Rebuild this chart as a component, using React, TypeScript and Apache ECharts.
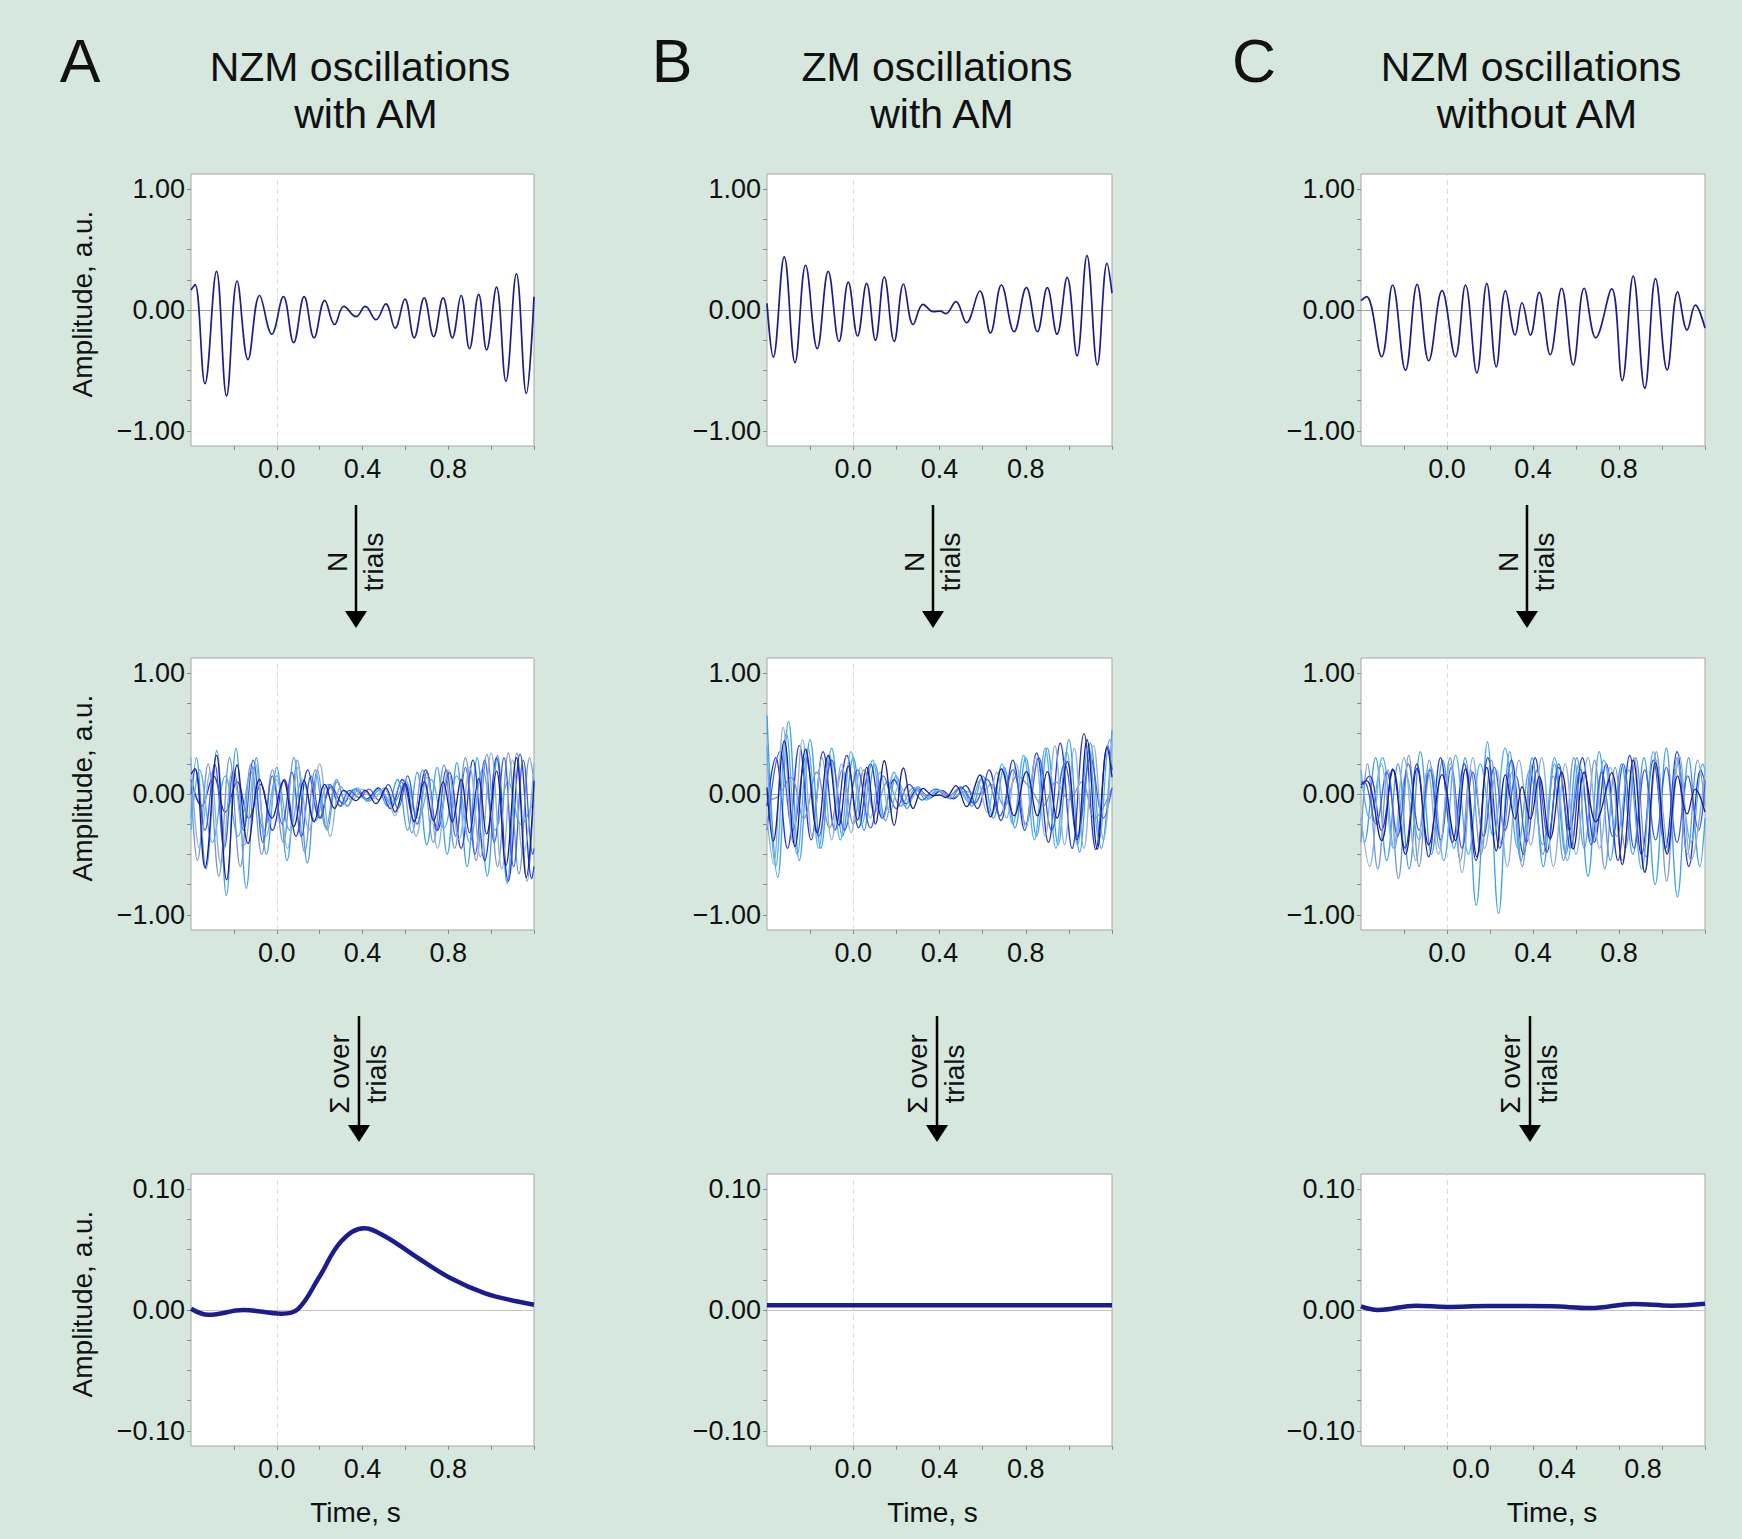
import React, { useEffect, useRef } from "react";
import * as echarts from "echarts";

// ---------- DATA (time in s, amplitude in a.u.) ----------
// single trials (top row) – extrema
const trialA: number[][] = [[-0.4,0.165],[-0.381,0.21],[-0.335,-0.61],[-0.281,0.32],[-0.234,-0.71],[-0.185,0.24],[-0.134,-0.41],[-0.08,0.12],[-0.023,-0.2],[0.031,0.11],[0.079,-0.27],[0.128,0.11],[0.174,-0.23],[0.224,0.08],[0.27,-0.12],[0.313,0.03],[0.37,-0.055],[0.413,0.03],[0.463,-0.08],[0.509,0.05],[0.552,-0.15],[0.598,0.09],[0.641,-0.23],[0.688,0.1],[0.732,-0.22],[0.776,0.1],[0.819,-0.23],[0.86,0.12],[0.899,-0.32],[0.942,0.13],[0.979,-0.33],[1.025,0.19],[1.069,-0.59],[1.118,0.3],[1.164,-0.69],[1.2,0.11]];
const trialB: number[][] = [[-0.4,0.055],[-0.371,-0.39],[-0.32,0.44],[-0.27,-0.435],[-0.221,0.37],[-0.167,-0.32],[-0.116,0.32],[-0.066,-0.26],[-0.023,0.23],[0.02,-0.215],[0.062,0.22],[0.103,-0.25],[0.144,0.275],[0.19,-0.26],[0.233,0.215],[0.278,-0.12],[0.324,0.047],[0.371,-0.014],[0.402,-0.01],[0.429,-0.03],[0.476,0.07],[0.525,-0.105],[0.587,0.157],[0.636,-0.19],[0.687,0.207],[0.746,-0.18],[0.803,0.185],[0.854,-0.18],[0.9,0.185],[0.945,-0.2],[0.992,0.27],[1.038,-0.38],[1.084,0.45],[1.132,-0.455],[1.177,0.385],[1.2,0.14]];
const trialC: number[][] = [[-0.4,0.077],[-0.374,0.11],[-0.304,-0.386],[-0.253,0.207],[-0.193,-0.5],[-0.139,0.212],[-0.085,-0.42],[-0.023,0.16],[0.039,-0.386],[0.086,0.207],[0.139,-0.52],[0.185,0.22],[0.229,-0.47],[0.272,0.16],[0.317,-0.207],[0.349,0.06],[0.388,-0.207],[0.429,0.146],[0.48,-0.37],[0.533,0.18],[0.587,-0.455],[0.638,0.18],[0.692,-0.23],[0.766,0.174],[0.815,-0.584],[0.866,0.28],[0.92,-0.647],[0.97,0.26],[1.024,-0.496],[1.073,0.15],[1.117,-0.165],[1.155,0.04],[1.2,-0.15]];

// further trials (middle row)
const trialsA2: number[][] = [[-0.4,-0.2],[-0.375,0.3],[-0.33,-0.62],[-0.28,0.36],[-0.235,-0.84],[-0.19,0.38],[-0.142,-0.78],[-0.095,0.3],[-0.048,-0.5],[0.0,0.22],[0.048,-0.55],[0.096,0.28],[0.143,-0.57],[0.19,0.2],[0.236,-0.3],[0.282,0.1],[0.33,-0.1],[0.376,0.05],[0.422,-0.06],[0.47,0.05],[0.515,-0.1],[0.562,0.12],[0.61,-0.3],[0.655,0.18],[0.7,-0.42],[0.748,0.22],[0.795,-0.5],[0.84,0.26],[0.888,-0.6],[0.935,0.3],[0.982,-0.68],[1.03,0.32],[1.075,-0.74],[1.12,0.34],[1.168,-0.72],[1.2,0.1]];
const trialsA3: number[][] = [[-0.4,0.12],[-0.35,-0.1],[-0.295,0.15],[-0.24,-0.15],[-0.185,0.1],[-0.13,-0.2],[-0.075,0.08],[-0.02,-0.3],[0.035,0.12],[0.09,-0.35],[0.145,0.2],[0.2,-0.2],[0.255,0.06],[0.31,-0.08],[0.365,0.04],[0.42,-0.04],[0.475,0.05],[0.53,-0.12],[0.585,0.12],[0.64,-0.22],[0.695,0.2],[0.75,-0.3],[0.805,0.18],[0.86,-0.45],[0.915,0.28],[0.97,-0.55],[1.025,0.3],[1.08,-0.72],[1.135,0.33],[1.19,-0.7],[1.2,-0.6]];
const trialsA4: number[][] = [[-0.4,0.1],[-0.37,-0.55],[-0.32,0.25],[-0.27,-0.68],[-0.22,0.3],[-0.17,-0.6],[-0.12,0.25],[-0.07,-0.5],[-0.02,0.2],[0.03,-0.4],[0.08,0.3],[0.13,-0.48],[0.18,0.2],[0.23,-0.28],[0.28,0.12],[0.33,-0.1],[0.38,0.03],[0.43,-0.06],[0.48,0.04],[0.53,-0.08],[0.58,0.1],[0.63,-0.32],[0.68,0.2],[0.73,-0.4],[0.78,0.24],[0.83,-0.45],[0.88,0.3],[0.93,-0.55],[0.98,0.33],[1.03,-0.6],[1.08,0.34],[1.13,-0.66],[1.18,0.3],[1.2,0.1]];
const trialsA5: number[][] = [[-0.4,-0.3],[-0.36,0.2],[-0.3,-0.4],[-0.24,0.15],[-0.18,-0.35],[-0.12,0.18],[-0.06,-0.3],[0.0,0.15],[0.06,-0.3],[0.12,0.12],[0.18,-0.22],[0.24,0.08],[0.3,-0.1],[0.36,0.04],[0.42,-0.05],[0.48,0.03],[0.54,-0.08],[0.6,0.1],[0.66,-0.2],[0.72,0.12],[0.78,-0.28],[0.84,0.15],[0.9,-0.4],[0.96,0.2],[1.02,-0.3],[1.08,0.1],[1.14,-0.25],[1.2,-0.05]];
const trialsA6: number[][] = [[-0.4,0.0],[-0.38,0.2],[-0.335,-0.3],[-0.29,0.25],[-0.245,-0.45],[-0.2,0.2],[-0.155,-0.3],[-0.11,0.28],[-0.065,-0.4],[-0.02,0.15],[0.025,-0.25],[0.07,0.18],[0.115,-0.35],[0.16,0.15],[0.205,-0.2],[0.25,0.08],[0.295,-0.1],[0.34,0.03],[0.385,-0.03],[0.43,0.04],[0.475,-0.05],[0.52,0.08],[0.565,-0.12],[0.61,0.15],[0.655,-0.25],[0.7,0.18],[0.745,-0.3],[0.79,0.2],[0.835,-0.35],[0.88,0.22],[0.925,-0.5],[0.97,0.28],[1.015,-0.4],[1.06,0.3],[1.105,-0.6],[1.15,0.28],[1.195,-0.5],[1.2,-0.45]];
const trialsA7: number[][] = [[-0.4,0.3],[-0.36,-0.45],[-0.31,0.18],[-0.26,-0.58],[-0.205,0.2],[-0.15,-0.42],[-0.1,0.25],[-0.05,-0.35],[0.0,0.12],[0.05,-0.45],[0.1,0.22],[0.15,-0.3],[0.2,0.25],[0.25,-0.35],[0.3,0.06],[0.35,-0.05],[0.4,0.04],[0.45,-0.04],[0.5,0.05],[0.55,-0.18],[0.6,0.12],[0.65,-0.35],[0.7,0.14],[0.75,-0.45],[0.8,0.2],[0.85,-0.38],[0.9,0.22],[0.95,-0.52],[1.0,0.34],[1.05,-0.62],[1.1,0.28],[1.15,-0.5],[1.2,0.25]];

const trialsB2: number[][] = [[-0.4,0.65],[-0.35,-0.69],[-0.3,0.6],[-0.25,-0.55],[-0.2,0.45],[-0.15,-0.45],[-0.1,0.38],[-0.05,-0.35],[0.0,0.3],[0.05,-0.3],[0.1,0.25],[0.15,-0.22],[0.2,0.15],[0.25,-0.12],[0.3,0.06],[0.35,-0.04],[0.4,0.03],[0.45,-0.04],[0.5,0.06],[0.55,-0.1],[0.6,0.15],[0.65,-0.2],[0.7,0.22],[0.75,-0.28],[0.8,0.3],[0.85,-0.35],[0.9,0.38],[0.95,-0.42],[1.0,0.45],[1.05,-0.48],[1.1,0.42],[1.15,-0.45],[1.2,0.53]];
const trialsB3: number[][] = [[-0.4,-0.1],[-0.36,0.3],[-0.305,-0.45],[-0.25,0.4],[-0.195,-0.38],[-0.14,0.35],[-0.085,-0.3],[-0.03,0.32],[0.025,-0.28],[0.08,0.25],[0.135,-0.2],[0.19,0.12],[0.245,-0.08],[0.3,0.04],[0.355,-0.03],[0.41,0.03],[0.465,-0.04],[0.52,0.07],[0.575,-0.12],[0.63,0.2],[0.685,-0.22],[0.74,0.28],[0.795,-0.3],[0.85,0.34],[0.905,-0.4],[0.96,0.42],[1.015,-0.45],[1.07,0.5],[1.125,-0.46],[1.18,0.4],[1.2,0.2]];
const trialsB4: number[][] = [[-0.4,-0.05],[-0.35,-0.02],[-0.29,0.14],[-0.23,-0.2],[-0.17,0.18],[-0.11,-0.28],[-0.05,0.2],[0.0,-0.25],[0.05,0.2],[0.1,-0.15],[0.16,0.1],[0.22,-0.1],[0.28,0.05],[0.34,-0.02],[0.4,0.03],[0.46,-0.03],[0.52,0.02],[0.58,0.0],[0.64,0.08],[0.7,-0.1],[0.76,0.15],[0.82,0.05],[0.88,-0.1],[0.94,0.1],[1.0,-0.05],[1.06,0.1],[1.12,-0.2],[1.2,0.05]];
const trialsB5: number[][] = [[-0.4,0.4],[-0.36,-0.6],[-0.31,0.5],[-0.26,-0.5],[-0.21,0.38],[-0.16,-0.45],[-0.11,0.32],[-0.06,-0.38],[-0.01,0.35],[0.04,-0.25],[0.09,0.28],[0.14,-0.2],[0.19,0.18],[0.24,-0.1],[0.29,0.05],[0.34,-0.05],[0.39,0.04],[0.44,-0.03],[0.49,0.05],[0.54,-0.08],[0.59,0.12],[0.64,-0.18],[0.69,0.25],[0.74,-0.25],[0.79,0.32],[0.84,-0.38],[0.89,0.38],[0.94,-0.45],[0.99,0.35],[1.04,-0.42],[1.09,0.4],[1.14,-0.38],[1.19,0.45],[1.2,0.4]];
const trialsB6: number[][] = [[-0.4,-0.3],[-0.34,0.35],[-0.28,-0.3],[-0.22,0.3],[-0.16,-0.35],[-0.1,0.28],[-0.04,-0.3],[0.02,0.2],[0.08,-0.28],[0.14,0.15],[0.2,-0.12],[0.26,0.08],[0.32,-0.05],[0.38,0.04],[0.44,-0.02],[0.5,0.05],[0.56,-0.08],[0.62,0.12],[0.68,-0.18],[0.74,0.2],[0.8,-0.25],[0.86,0.3],[0.92,-0.3],[0.98,0.25],[1.04,-0.35],[1.1,0.3],[1.16,-0.2],[1.2,0.05]];
const trialsB7: number[][] = [[-0.4,-0.2],[-0.37,-0.58],[-0.325,0.55],[-0.28,-0.4],[-0.235,0.45],[-0.19,-0.35],[-0.145,0.3],[-0.1,-0.38],[-0.055,0.25],[-0.01,-0.32],[0.035,0.22],[0.08,-0.2],[0.125,0.18],[0.17,-0.15],[0.215,0.08],[0.26,-0.06],[0.305,0.03],[0.35,-0.03],[0.395,0.03],[0.44,-0.03],[0.485,0.04],[0.53,-0.06],[0.575,0.1],[0.62,-0.15],[0.665,0.18],[0.71,-0.2],[0.755,0.25],[0.8,-0.28],[0.845,0.3],[0.89,-0.35],[0.935,0.4],[0.98,-0.42],[1.025,0.38],[1.07,-0.45],[1.115,0.4],[1.16,-0.38],[1.2,0.45]];

const trialsC2: number[][] = [[-0.4,-0.2],[-0.384,-0.4],[-0.332,0.3],[-0.28,-0.55],[-0.228,0.25],[-0.176,-0.62],[-0.124,0.35],[-0.072,-0.5],[-0.02,0.28],[0.032,-0.45],[0.084,0.3],[0.136,-0.92],[0.188,0.43],[0.24,-0.99],[0.292,0.35],[0.344,-0.55],[0.396,0.3],[0.448,-0.6],[0.5,0.25],[0.552,-0.5],[0.604,0.3],[0.656,-0.68],[0.708,0.35],[0.76,-0.55],[0.812,0.25],[0.864,-0.5],[0.916,0.3],[0.968,-0.75],[1.02,0.38],[1.072,-0.85],[1.124,0.3],[1.176,-0.6],[1.2,-0.2]];
const trialsC3: number[][] = [[-0.4,0.05],[-0.36,0.15],[-0.305,-0.3],[-0.25,0.2],[-0.195,-0.45],[-0.14,0.25],[-0.085,-0.52],[-0.03,0.3],[0.025,-0.4],[0.08,0.25],[0.135,-0.55],[0.19,0.3],[0.245,-0.45],[0.3,0.28],[0.355,-0.5],[0.41,0.3],[0.465,-0.48],[0.52,0.22],[0.575,-0.45],[0.63,0.3],[0.685,-0.4],[0.74,0.25],[0.795,-0.55],[0.85,0.32],[0.905,-0.5],[0.96,0.28],[1.015,-0.45],[1.07,0.35],[1.125,-0.6],[1.18,0.2],[1.2,0.1]];
const trialsC4: number[][] = [[-0.4,-0.4],[-0.37,0.25],[-0.322,-0.62],[-0.274,0.2],[-0.226,-0.7],[-0.178,0.32],[-0.13,-0.6],[-0.082,0.28],[-0.034,-0.45],[0.014,0.3],[0.062,-0.55],[0.11,0.2],[0.158,-0.5],[0.206,0.28],[0.254,-0.42],[0.302,0.18],[0.35,-0.6],[0.398,0.25],[0.446,-0.5],[0.494,0.15],[0.542,-0.55],[0.59,0.3],[0.638,-0.45],[0.686,0.28],[0.734,-0.62],[0.782,0.22],[0.83,-0.45],[0.878,0.3],[0.926,-0.52],[0.974,0.35],[1.022,-0.72],[1.07,0.3],[1.118,-0.5],[1.166,0.28],[1.2,-0.1]];
const trialsC5: number[][] = [[-0.4,0.2],[-0.36,-0.2],[-0.3,0.3],[-0.245,-0.45],[-0.19,0.15],[-0.13,-0.38],[-0.075,0.22],[-0.015,-0.55],[0.04,0.32],[0.1,-0.5],[0.155,0.25],[0.215,-0.35],[0.27,0.38],[0.33,-0.45],[0.385,0.2],[0.445,-0.42],[0.5,0.3],[0.56,-0.55],[0.615,0.25],[0.675,-0.4],[0.73,0.28],[0.79,-0.35],[0.845,0.2],[0.905,-0.62],[0.96,0.35],[1.02,-0.48],[1.075,0.25],[1.135,-0.4],[1.19,0.25],[1.2,0.2]];
const trialsC6: number[][] = [[-0.4,0.1],[-0.375,0.08],[-0.33,-0.25],[-0.28,0.18],[-0.23,-0.35],[-0.18,0.25],[-0.13,-0.3],[-0.08,0.2],[-0.03,-0.38],[0.02,0.22],[0.07,-0.45],[0.12,0.18],[0.17,-0.35],[0.22,0.22],[0.27,-0.3],[0.32,0.15],[0.37,-0.4],[0.42,0.2],[0.47,-0.35],[0.52,0.25],[0.57,-0.3],[0.62,0.2],[0.67,-0.42],[0.72,0.18],[0.77,-0.35],[0.82,0.25],[0.87,-0.45],[0.92,0.2],[0.97,-0.38],[1.02,0.22],[1.07,-0.4],[1.12,0.15],[1.17,-0.3],[1.2,0.1]];
const trialsC7: number[][] = [[-0.4,-0.2],[-0.36,-0.6],[-0.305,0.25],[-0.25,-0.45],[-0.2,0.3],[-0.145,-0.55],[-0.09,0.2],[-0.04,-0.5],[0.015,0.25],[0.07,-0.65],[0.12,0.3],[0.175,-0.45],[0.23,0.2],[0.28,-0.6],[0.335,0.28],[0.39,-0.42],[0.44,0.3],[0.495,-0.6],[0.55,0.25],[0.6,-0.5],[0.655,0.3],[0.71,-0.45],[0.76,0.22],[0.815,-0.55],[0.87,0.3],[0.92,-0.65],[0.975,0.28],[1.03,-0.45],[1.08,0.32],[1.135,-0.55],[1.2,0.2]];

// sums over trials (bottom row)
const sumA: number[][] = [[-0.4,0.001],[-0.318,-0.004],[-0.155,0.0],[0.023,-0.003],[0.1,0.001],[0.194,0.026],[0.302,0.057],[0.408,0.0676],[0.504,0.061],[0.659,0.043],[0.814,0.026],[0.969,0.014],[1.124,0.007],[1.2,0.0044]];
const sumB: number[][] = [[-0.4,0.004],[0.0,0.004],[0.4,0.004],[0.8,0.004],[1.2,0.004]];
const sumC: number[][] = [[-0.4,0.003],[-0.321,0.0],[-0.143,0.0036],[0.0,0.0025],[0.19,0.0033],[0.485,0.003],[0.667,0.0016],[0.868,0.005],[1.046,0.0036],[1.2,0.0052]];

const xTicks = [-0.2, 0, 0.2, 0.4, 0.6, 0.8, 1.0, 1.2];
const xLabels = [0, 0.4, 0.8];
const yTicksTrial = [-1, -0.75, -0.5, -0.25, 0, 0.25, 0.5, 0.75, 1];
const yLabelsTrial = [-1, 0, 1];
const yTicksSum = [-0.1, -0.075, -0.05, -0.025, 0, 0.025, 0.05, 0.075, 0.1];
const yLabelsSum = [-0.1, 0, 0.1];
const titles = [["NZM oscillations", "with AM"], ["ZM oscillations", "with AM"], ["NZM oscillations", "without AM"]];
const letters = ["A", "B", "C"];

// ---------- STYLE / LAYOUT ----------
const FONT = "'Liberation Sans', Arial, sans-serif";
const BG = "#d6e7de";
const NAVY = "#1c1c8e";
const TRIAL_COLORS = ["#3f9fec", "#2636d8", "#7896cc", "#55aef5", "#3c5ee0", "#8cb0dc"];
const colLeft = [191, 767, 1361];
const colWidth = [343, 345, 344];
const rowTop = [174, 658, 1174];
const rowH = 272;
const titleX = [[360, 366], [937, 942], [1531, 1537]];
const letterX = [80, 672, 1254];
const arrow1X = [356, 933, 1527];
const arrow2X = [359, 937, 1530];

const fmt = (v: number) => {
  const s = Math.abs(v).toFixed(2);
  return v < -1e-9 ? "\u2212" + s : s;
};

export default function App() {
  const ref = useRef<HTMLDivElement>(null);
  useEffect(() => {
    if (!ref.current) return;
    const chart = echarts.init(ref.current, null, { renderer: "svg" });
    const grids: any[] = [];
    const xAxes: any[] = [];
    const yAxes: any[] = [];
    const series: any[] = [];
    const panelsData = [
      [[trialA], [trialB], [trialC]],
      [
        [trialsA2, trialsA3, trialsA4, trialsA5, trialsA6, trialsA7, trialA],
        [trialsB2, trialsB3, trialsB4, trialsB5, trialsB6, trialsB7, trialB],
        [trialsC2, trialsC3, trialsC4, trialsC5, trialsC6, trialsC7, trialC],
      ],
      [[sumA], [sumB], [sumC]],
    ];
    for (let r = 0; r < 3; r++) {
      for (let c = 0; c < 3; c++) {
        const i = r * 3 + c;
        const isSum = r === 2;
        grids.push({
          left: colLeft[c], top: rowTop[r], width: colWidth[c], height: rowH,
          show: true, backgroundColor: "#ffffff", borderColor: "#a6a6a6", borderWidth: 1,
        });
        xAxes.push({
          gridIndex: i, type: "value", min: -0.4, max: 1.2, position: "bottom",
          axisLine: { show: false, onZero: false },
          splitLine: { show: false },
          axisTick: { show: true, customValues: xTicks, length: 4, lineStyle: { color: "#8a8a8a" } },
          axisLabel: {
            customValues: xLabels, formatter: (v: number) => v.toFixed(1),
            fontSize: 27, color: "#111", fontFamily: FONT, margin: 9,
            padding: isSum && c === 2 ? [0, 0, 0, 48] : 0,
          },
          name: isSum ? "Time, s" : "",
          nameLocation: "middle", nameGap: 52,
          nameTextStyle: {
            fontSize: 28, color: "#111", fontFamily: FONT,
            padding: c === 2 ? [0, 0, 0, 38] : [0, 14, 0, 0],
          },
        });
        yAxes.push({
          gridIndex: i, type: "value", position: "left",
          min: isSum ? -0.1125 : -1.125, max: isSum ? 0.1125 : 1.125,
          axisLine: { show: false, onZero: false },
          splitLine: { show: false },
          axisTick: { show: true, customValues: isSum ? yTicksSum : yTicksTrial, length: 4, lineStyle: { color: "#8a8a8a" } },
          axisLabel: {
            customValues: isSum ? yLabelsSum : yLabelsTrial, formatter: fmt,
            fontSize: 27, color: "#111", fontFamily: FONT, margin: 6,
          },
          name: c === 0 ? "Amplitude, a.u." : "",
          nameLocation: "middle", nameGap: 95, nameRotate: 90,
          nameTextStyle: { fontSize: 28, color: "#111", fontFamily: FONT, padding: [0, 0, 0, 12] },
        });
        const list = panelsData[r][c];
        list.forEach((d: number[][], k: number) => {
          const isNavy = k === list.length - 1;
          series.push({
            type: "line", xAxisIndex: i, yAxisIndex: i, data: d,
            symbol: "none", showSymbol: false, smooth: 0.4, silent: true,
            z: isNavy ? 4 : 3,
            lineStyle: {
              color: isNavy ? NAVY : TRIAL_COLORS[k % TRIAL_COLORS.length],
              width: isSum ? 4.5 : r === 0 ? 1.7 : 1.3,
            },
            markLine: k === 0 ? {
              silent: true, symbol: "none", label: { show: false }, z: 2,
              data: [
                { xAxis: 0, lineStyle: { type: [5, 4], color: "#dadada", width: 1 } },
                { yAxis: 0, lineStyle: { type: "solid", color: isSum ? "#c4c4c4" : "#a4a4a4", width: 1.2 } },
              ],
            } : undefined,
          });
        });
      }
    }

    const graphics: any[] = [];
    const txt = (text: string, x: number, y: number, size: number, rot = 0) => ({
      type: "text", x, y, rotation: rot, silent: true,
      style: {
        text, fill: "#111", font: `${size}px ${FONT}`,
        align: "center", verticalAlign: "middle", textAlign: "center", textVerticalAlign: "middle",
      },
    });
    for (let c = 0; c < 3; c++) {
      graphics.push(txt(letters[c], letterX[c], 61, 61));
      graphics.push(txt(titles[c][0], titleX[c][0], 67, 41));
      graphics.push(txt(titles[c][1], titleX[c][1], 114, 41));
      const a1 = arrow1X[c];
      graphics.push({ type: "line", silent: true, shape: { x1: a1, y1: 505, x2: a1, y2: 614 }, style: { stroke: "#000", lineWidth: 2.5 } });
      graphics.push({ type: "polygon", silent: true, shape: { points: [[a1 - 11, 611], [a1 + 11, 611], [a1, 628]] }, style: { fill: "#000" } });
      graphics.push(txt("N", a1 - 19, 562, 28, Math.PI / 2));
      graphics.push(txt("trials", a1 + 17, 562, 28, Math.PI / 2));
      const a2 = arrow2X[c];
      graphics.push({ type: "line", silent: true, shape: { x1: a2, y1: 1016, x2: a2, y2: 1128 }, style: { stroke: "#000", lineWidth: 2.5 } });
      graphics.push({ type: "polygon", silent: true, shape: { points: [[a2 - 11, 1125], [a2 + 11, 1125], [a2, 1142]] }, style: { fill: "#000" } });
      graphics.push(txt("\u03A3 over", a2 - 20, 1074, 28, Math.PI / 2));
      graphics.push(txt("trials", a2 + 17, 1074, 28, Math.PI / 2));
    }

    chart.setOption({
      animation: false,
      backgroundColor: BG,
      textStyle: { fontFamily: FONT },
      grid: grids,
      xAxis: xAxes,
      yAxis: yAxes,
      series,
      graphic: graphics,
    });
    return () => chart.dispose();
  }, []);
  return (
    <div
      ref={ref}
      style={{ position: "fixed", left: 0, top: 0, width: 1742, height: 1539, background: BG }}
    />
  );
}
